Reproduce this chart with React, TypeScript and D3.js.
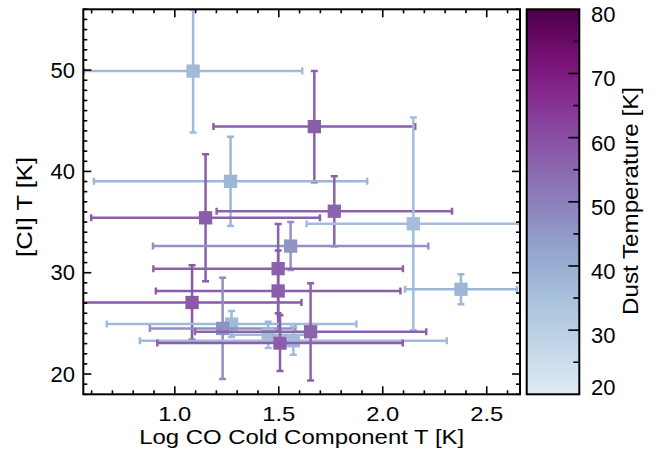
import React from "react";
import * as d3 from "d3";

// Log CO cold-component temperature, [CI] temperature, their errors and dust temperature
const logCO = [1.088, 1.671, 1.268, 1.148, 1.767, 2.147, 1.557, 1.497, 1.497, 1.083, 1.273, 1.23, 1.449, 1.57, 1.506, 1.653, 2.376];
const logCOErr = [0.525, 0.485, 0.657, 0.55, 0.566, 0.513, 0.662, 0.6, 0.588, 0.526, 0.6, 0.35, 0.18, 0.738, 0.59, 0.556, 0.269];
const tCI = [49.9, 44.42, 39.02, 35.42, 36.07, 34.83, 32.63, 30.4, 28.2, 27.06, 24.93, 24.5, 23.87, 23.28, 23.06, 24.17, 28.37];
const tCIErr = [6.05, 5.5, 4.4, 6.27, 3.45, 10.5, 2.37, 4.4, 4.0, 3.67, 1.28, 5.0, 1.3, 1.38, 2.75, 4.8, 1.47];
const dustT = [37, 57, 38, 57, 56, 36, 46, 56, 57, 58, 37, 47, 37, 37, 57, 56, 38];

const xTicks = [1.0, 1.5, 2.0, 2.5];
const yTicks = [20, 30, 40, 50];
const cbTicks = [20, 30, 40, 50, 60, 70, 80];

const W = 658;
const H = 456;
const plot = { left: 83.3, right: 520, top: 9.3, bottom: 394.3 };
const cb = { left: 526.7, right: 579.3, top: 9.3, bottom: 394.3 };
const FONT = "'Liberation Sans', Arial, Helvetica, sans-serif";

const x = d3.scaleLinear().domain([0.56, 2.66]).range([plot.left, plot.right]);
const y = d3.scaleLinear().domain([18, 56]).range([plot.bottom, plot.top]);
const cbScale = d3.scaleLinear().domain([20, 80]).range([cb.bottom, cb.top]);
const colorOf = (t: number) => d3.interpolateBuPu(0.125 + 0.875 * ((t - 20) / 60));

export default function App() {
  const xMinor = d3.range(0.6, 2.66, 0.1);
  const yMinor = d3.range(18, 56.01, 1);
  const cbMinor = d3.range(25, 80, 5);
  const gradStops = d3.range(0, 1.0001, 0.02);
  const cap = 3.5;
  const marker = 13.3;

  return (
    <svg width={W} height={H} style={{ display: "block", position: "absolute", left: 0, top: 0 }} fontFamily={FONT}>
      <rect x={0} y={0} width={W} height={H} fill="#ffffff" />
      <defs>
        <clipPath id="plotClip">
          <rect x={plot.left} y={plot.top} width={plot.right - plot.left} height={plot.bottom - plot.top} />
        </clipPath>
        <linearGradient id="cbGrad" x1="0" y1="1" x2="0" y2="0">
          {gradStops.map((f) => (
            <stop key={f} offset={f} stopColor={colorOf(20 + 60 * f)} />
          ))}
        </linearGradient>
      </defs>

      {/* error bars and markers */}
      <g clipPath="url(#plotClip)">
        {logCO.map((xv, i) => {
          const c = colorOf(dustT[i]);
          const cx = x(xv);
          const cy = y(tCI[i]);
          const x0 = x(xv - logCOErr[i]);
          const x1 = x(xv + logCOErr[i]);
          const y0 = y(tCI[i] - tCIErr[i]);
          const y1 = y(tCI[i] + tCIErr[i]);
          return (
            <g key={i} stroke={c} strokeWidth={2.5} fill="none">
              <line x1={x0} x2={x1} y1={cy} y2={cy} />
              <line x1={x0} x2={x0} y1={cy - cap} y2={cy + cap} />
              <line x1={x1} x2={x1} y1={cy - cap} y2={cy + cap} />
              <line x1={cx} x2={cx} y1={y0} y2={y1} />
              <line x1={cx - cap} x2={cx + cap} y1={y0} y2={y0} />
              <line x1={cx - cap} x2={cx + cap} y1={y1} y2={y1} />
              <rect x={cx - marker / 2} y={cy - marker / 2} width={marker} height={marker} fill={c} stroke="none" />
            </g>
          );
        })}
      </g>

      {/* frame and ticks */}
      <g stroke="#000" strokeWidth={1.6}>
        {xMinor.map((v, i) => {
          const px = x(v);
          const major = xTicks.some((t) => Math.abs(t - v) < 1e-6);
          const len = major ? 8 : 4;
          return (
            <g key={"xm" + i}>
              <line x1={px} x2={px} y1={plot.bottom} y2={plot.bottom - len} />
              <line x1={px} x2={px} y1={plot.top} y2={plot.top + len} />
            </g>
          );
        })}
        {yMinor.map((v, i) => {
          const py = y(v);
          const major = yTicks.some((t) => Math.abs(t - v) < 1e-6);
          const len = major ? 8 : 4;
          return (
            <g key={"ym" + i}>
              <line x1={plot.left} x2={plot.left + len} y1={py} y2={py} />
              <line x1={plot.right} x2={plot.right - len} y1={py} y2={py} />
            </g>
          );
        })}
        <rect x={plot.left} y={plot.top} width={plot.right - plot.left} height={plot.bottom - plot.top} fill="none" strokeWidth={2} />
      </g>

      {/* tick labels */}
      <g fontSize={21} fill="#000">
        {xTicks.map((v) => (
          <text key={"xl" + v} x={x(v)} y={421} textAnchor="middle" textLength={33} lengthAdjust="spacingAndGlyphs">
            {d3.format(".1f")(v)}
          </text>
        ))}
        {yTicks.map((v) => (
          <text key={"yl" + v} x={75} y={y(v) + 7.5} textAnchor="end" fontSize={22}>
            {v}
          </text>
        ))}
      </g>

      {/* axis titles */}
      <text x={(plot.left + plot.right) / 2} y={444} textAnchor="middle" fontSize={20.5} textLength={325} lengthAdjust="spacingAndGlyphs">
        Log CO Cold Component T [K]
      </text>
      <text transform={`translate(32,207) rotate(-90)`} textAnchor="middle" fontSize={21.5} textLength={100} lengthAdjust="spacingAndGlyphs">
        [CI] T [K]
      </text>

      {/* colour bar */}
      <rect x={cb.left} y={cb.top} width={cb.right - cb.left} height={cb.bottom - cb.top} fill="url(#cbGrad)" />
      <g stroke="#000" strokeWidth={1.6}>
        {cbMinor.map((v) => {
          const len = v % 10 === 0 ? 11 : 6;
          return <line key={"cb" + v} x1={cb.right} x2={cb.right - len} y1={cbScale(v)} y2={cbScale(v)} />;
        })}
        <rect x={cb.left} y={cb.top} width={cb.right - cb.left} height={cb.bottom - cb.top} fill="none" strokeWidth={2} />
      </g>
      <g fontSize={22} fill="#000">
        {cbTicks.map((v) => (
          <text key={"cbl" + v} x={591} y={Math.min(cbScale(v) + 5, 387) + 8} textAnchor="start">
            {v}
          </text>
        ))}
      </g>
      <text transform={`translate(638,201) rotate(-90)`} textAnchor="middle" fontSize={21.5} textLength={228} lengthAdjust="spacingAndGlyphs">
        Dust Temperature [K]
      </text>
    </svg>
  );
}
